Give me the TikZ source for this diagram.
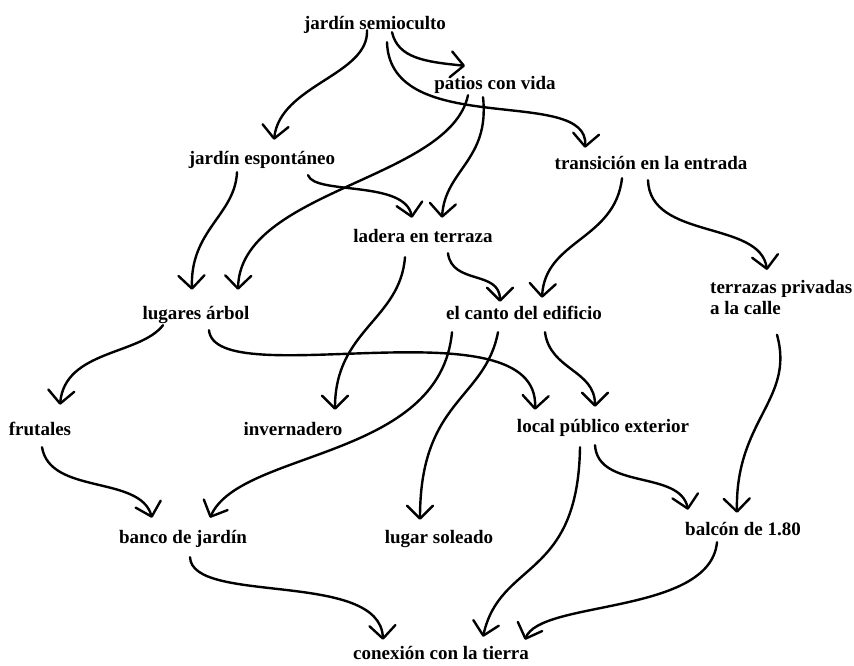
\documentclass[tikz,border=0pt]{standalone}
\usepackage{fontspec}
\setmainfont{Liberation Serif}
\usetikzlibrary{arrows.meta}
\newcommand{\patfont}{\fontsize{19}{21}\selectfont\bfseries}

\begin{document}
\begin{tikzpicture}[
    x=1pt, y=-1pt,
    pattern/.style={font=\patfont, inner sep=1pt, text height=13pt, text depth=5pt, anchor=base},
    link/.style={-{Straight Barb[length=13pt, width=26pt, round]}, line width=2.4pt, line cap=round} % Hand-drawn arrow
]
    \useasboundingbox (0,0) rectangle (854,665);

    % Top of the language
    \node[pattern] (js) at (375, 29) {jardín semioculto};
    \node[pattern] (pv) at (495, 89) {patios con vida};

    % Second row
    \node[pattern] (je) at (262, 164) {jardín espontáneo};
    \node[pattern] (ti) at (651, 169) {transición en la entrada};
    \node[pattern] (lt) at (423, 242) {ladera en terraza};
    \node[font=\patfont, inner sep=1pt, align=left, anchor=north west] (tp) at (709, 279) {terrazas privadas\\a la calle};

    % Third row
    \node[pattern] (la) at (196, 319) {lugares árbol};
    \node[pattern] (ce) at (524, 319) {el canto del edificio};

    % Fourth row
    \node[pattern] (fr) at (40, 435) {frutales};
    \node[pattern] (in) at (293, 435) {invernadero};
    \node[pattern] (lp) at (603, 432) {local público exterior};

    % Fifth row
    \node[pattern] (bj) at (183, 543) {banco de jardín};
    \node[pattern] (ls) at (439, 543) {lugar soleado};
    \node[pattern] (bl) at (743, 535) {balcón de 1.80};

    % Bottom
    \node[pattern] (co) at (441, 659) {conexión con la tierra};

    % From jardín semioculto
    \draw[link] ([xshift=17pt, yshift=3pt]js.south) .. controls +(6,26) and +(-40,-4) .. ([xshift=-30pt, yshift=9pt]pv.north);
    \draw[link] ([xshift=-8pt, yshift=5pt]js.south) .. controls +(2,45) and +(6,-55) .. ([xshift=12pt, yshift=10pt]je.north);
    \draw[link] ([xshift=12pt, yshift=-7pt]js.south) .. controls +(3,98) and +(5,-63) .. ([xshift=-66pt, yshift=7pt]ti.north);

    % From patios con vida and jardín espontáneo
    \draw[link] ([xshift=-27pt]pv.south) .. controls +(-18,85) and +(2,-100) .. ([xshift=42pt, yshift=15pt]la.north);
    \draw[link] ([xshift=-12pt, yshift=-2pt]pv.south) .. controls +(7,63) and +(3,-48) .. ([xshift=19pt, yshift=10pt]lt.north);
    \draw[link] ([xshift=46pt, yshift=-5pt]je.south) .. controls +(7,20) and +(-7,-38) .. ([xshift=-11pt, yshift=10pt]lt.north);
    \draw[link] ([xshift=-25pt, yshift=-2pt]je.south) .. controls +(-2,43) and +(-2,-60) .. ([xshift=-4pt, yshift=15pt]la.north);

    % From transición en la entrada
    \draw[link] ([xshift=-29pt, yshift=-3pt]ti.south) .. controls +(-7,62) and +(3,-58) .. ([xshift=18pt, yshift=7pt]ce.north);
    \draw[link] ([xshift=-3pt, yshift=-5pt]ti.south) .. controls +(2,60) and +(-7,-50) .. ([xshift=58pt, yshift=9pt]tp.north west);

    % From ladera en terraza
    \draw[link] ([xshift=25pt, yshift=-5pt]lt.south) .. controls +(4,32) and +(0,-32) .. ([xshift=-24pt, yshift=3pt]ce.north);
    \draw[link] ([xshift=-18pt, yshift=-9pt]lt.south) .. controls +(-5,63) and +(0,-80) .. ([xshift=42pt, yshift=11pt]in.north);

    % From lugares árbol
    \draw[link] ([xshift=-33pt]la.south) .. controls +(-23,30) and +(5,-55) .. ([xshift=20pt, yshift=16pt]fr.north);
    \draw[link] ([xshift=13pt, yshift=-5pt]la.south) .. controls +(6,65) and +(5,-110) .. ([xshift=-68pt, yshift=8pt]lp.north);

    % From el canto del edificio
    \draw[link] ([xshift=-72pt, yshift=-7pt]ce.south) .. controls +(-12,128) and +(30,-68) .. ([xshift=27pt, yshift=11pt]bj.north);
    \draw[link] ([xshift=-26pt, yshift=-7pt]ce.south) .. controls +(-13,68) and +(0,-120) .. ([xshift=-19pt, yshift=9pt]ls.north);
    \draw[link] ([xshift=21pt, yshift=-7pt]ce.south) .. controls +(5,38) and +(0,-37) .. ([xshift=-8pt, yshift=11pt]lp.north);

    % From terrazas privadas and frutales
    \draw[link] ([xshift=68pt, yshift=-19pt]tp.south west) .. controls +(18,65) and +(-2,-93) .. ([xshift=-6pt, yshift=8pt]bl.north);
    \draw[link] ([xshift=2pt, yshift=-6pt]fr.south) .. controls +(8,48) and +(-12,-43) .. ([xshift=-31pt, yshift=11pt]bj.north);

    % From local público exterior
    \draw[link] ([xshift=-23pt, yshift=-9pt]lp.south) .. controls +(-2,133) and +(17,-77) .. ([xshift=42pt, yshift=8pt]co.north);
    \draw[link] ([xshift=-8pt, yshift=-7pt]lp.south) .. controls +(3,45) and +(-8,-40) .. ([xshift=-55pt, yshift=11pt]bl.north);

    % Into conexión con la tierra
    \draw[link] ([xshift=7pt, yshift=-8pt]bj.south) .. controls +(2,48) and +(-3,-70) .. ([xshift=-58pt, yshift=5pt]co.north);
    \draw[link] ([xshift=-26pt, yshift=-1pt]bl.south) .. controls +(-7,73) and +(15,-40) .. ([xshift=84pt, yshift=5pt]co.north);

\end{tikzpicture}
\end{document}
